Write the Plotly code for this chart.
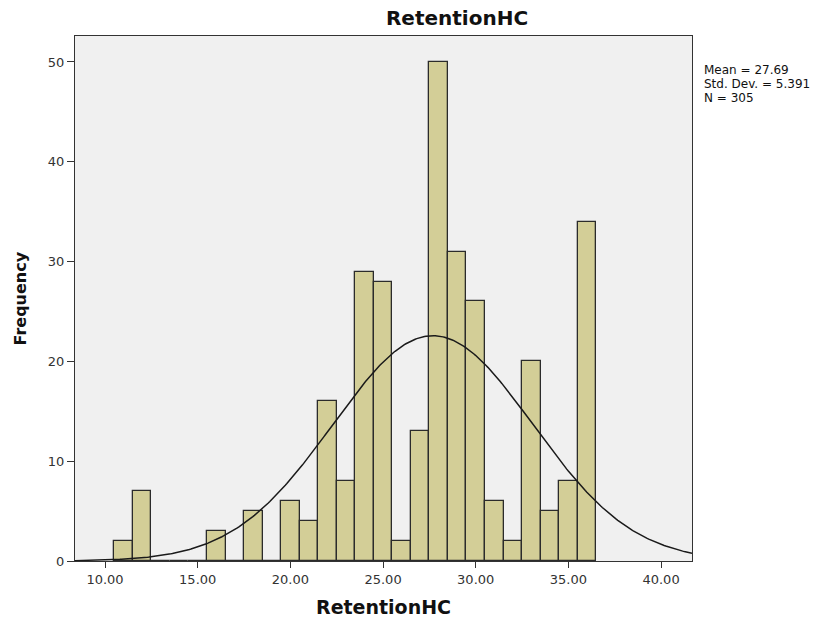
import numpy as np
import plotly.graph_objects as go

# Histogram data (bin centres, width 1)
bin_centers = [11, 12, 13, 14, 15, 16, 17, 18, 19, 20, 21, 22, 23, 24, 25, 26,
               27, 28, 29, 30, 31, 32, 33, 34, 35, 36]
frequencies = [2, 7, 0, 0, 0, 3, 0, 5, 0, 6, 4, 16, 8, 29, 28, 2,
               13, 50, 31, 26, 6, 2, 20, 5, 8, 34]
bin_width = 1.0

# Summary statistics shown on the chart
mean_val = 27.69
std_val = 5.391
n_val = 305

x_ticks = [10, 15, 20, 25, 30, 35, 40]
y_ticks = [0, 10, 20, 30, 40, 50]
x_range = [8.38, 41.67]
y_range = [0, 52.6]

# Normal curve fitted with the displayed statistics
xc = np.linspace(x_range[0], x_range[1], 400)
yc = n_val * bin_width / (std_val * np.sqrt(2 * np.pi)) * np.exp(-0.5 * ((xc - mean_val) / std_val) ** 2)

fig = go.Figure()
fig.add_trace(go.Bar(
    x=bin_centers, y=frequencies, width=bin_width,
    marker=dict(color="#d3ce97", line=dict(color="#2b2b2b", width=1.3)),
    showlegend=False, hoverinfo="x+y"))
fig.add_trace(go.Scatter(
    x=xc, y=yc, mode="lines", line=dict(color="#1a1a1a", width=1.5),
    showlegend=False, hoverinfo="skip"))

ff = "DejaVu Sans, Verdana, sans-serif"

W, H = 825, 619
L, T, R, B = 75, 36, 133, 58

stats_lines = [f"Mean = {mean_val:.2f}", f"Std. Dev. = {std_val:.3f}", f"N = {n_val}"]
annotations = []
for i, s in enumerate(stats_lines):
    annotations.append(dict(
        text=s, xref="paper", yref="paper", x=1.0, y=1.0,
        xshift=10, yshift=-(70 - T) - 14 * i,
        xanchor="left", yanchor="middle", align="left", showarrow=False,
        font=dict(size=12, color="#111111", family=ff)))
# axis titles
annotations.append(dict(
    text="<b>Frequency</b>", xref="paper", yref="paper", x=0, y=0.5,
    xshift=20 - L, xanchor="center", yanchor="middle", textangle=-90,
    showarrow=False, font=dict(size=16, color="#111111", family=ff)))
annotations.append(dict(
    text="<b>RetentionHC</b>", xref="paper", yref="paper", x=0.5, y=0,
    yshift=-(607 - (H - B)), xanchor="center", yanchor="middle",
    showarrow=False, font=dict(size=19, color="#111111", family=ff)))

fig.update_layout(
    width=W, height=H,
    margin=dict(l=L, r=R, t=T, b=B),
    paper_bgcolor="white", plot_bgcolor="#f0f0f0",
    font=dict(family=ff, size=13, color="#333333"),
    bargap=0,
    title=dict(text="<b>RetentionHC</b>", x=457 / W, xanchor="center",
               y=1 - 18 / H, yanchor="middle",
               font=dict(size=20, color="#111111", family=ff)),
    xaxis=dict(range=x_range, tickvals=x_ticks,
               ticktext=[f"{v:.2f}" for v in x_ticks],
               ticks="outside", ticklen=6, tickcolor="#333333",
               tickfont=dict(size=13, color="#333333", family=ff),
               showline=True, linecolor="#333333", linewidth=1.2, mirror=True,
               showgrid=False, zeroline=False),
    yaxis=dict(range=y_range, tickvals=y_ticks,
               ticks="outside", ticklen=7, tickcolor="#333333",
               tickfont=dict(size=13, color="#333333", family=ff),
               showline=True, linecolor="#333333", linewidth=1.2, mirror=True,
               showgrid=False, zeroline=False),
    annotations=annotations,
)

fig.write_html("out.html",
               config={"displayModeBar": False},
               post_script="document.body.style.margin='0';document.body.style.padding='0';")
